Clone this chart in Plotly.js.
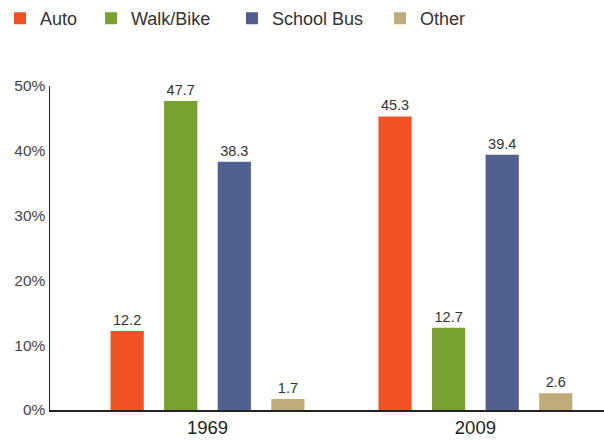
<!DOCTYPE html>
<html><head><meta charset="utf-8">
<script src="https://cdn.plot.ly/plotly-3.0.1.min.js"></script>
<style>body{margin:0;background:#fff}#chart{width:604px;height:441px}</style>
</head><body><div id="chart"></div>
<script>
const years = ["1969", "2009"];
const seriesNames = ["Auto", "Walk/Bike", "School Bus", "Other"];
const auto = [12.2, 45.3];
const walkBike = [47.7, 12.7];
const schoolBus = [38.3, 39.4];
const other = [1.7, 2.6];
const yTickVals = [0, 10, 20, 30, 40, 50];
const yTickText = ["0%", "10%", "20%", "30%", "40%", "50%"];
const colors = ["#F05224", "#78A132", "#52608F", "#C0AC7A"];
const seriesValues = [auto, walkBike, schoolBus, other];
const legendIds = ["legend", "legend2", "legend3", "legend4"];
const legendX = [-0.0903, 0.074, 0.3285, 0.5957];

const FONT = "Liberation Sans, Arial, sans-serif";

const traces = seriesValues.map((vals, i) => ({
  type: "bar",
  name: seriesNames[i],
  x: years,
  y: vals,
  legend: legendIds[i],
  marker: {color: colors[i]},
  text: vals.map(v => v.toFixed(1)),
  textposition: "outside",
  textfont: {size: 14.5, color: "#333", family: FONT},
  cliponaxis: false,
  hoverinfo: "none"
}));

const layout = {
  width: 604, height: 441,
  margin: {l: 50, r: 0, t: 86, b: 31},
  paper_bgcolor: "#fff", plot_bgcolor: "#fff",
  font: {family: FONT, color: "#333"},
  barmode: "group",
  bargap: 0.2,
  bargroupgap: 0.38,
  showlegend: true,
  xaxis: {
    type: "category", range: [-0.588, 1.48],
    showline: true, linecolor: "#222", linewidth: 1.5,
    ticks: "", tickfont: {size: 18.5, color: "#222"}, showgrid: false, zeroline: false
  },
  yaxis: {
    range: [0, 50], tickmode: "array", tickvals: yTickVals, ticktext: yTickText,
    showline: true, linecolor: "#222", linewidth: 1.5,
    ticks: "", tickfont: {size: 15.5, color: "#444"}, showgrid: false, zeroline: false
  }
};
legendIds.forEach((id, i) => {
  layout[id] = {
    orientation: "h", x: legendX[i], xanchor: "left", y: 1.265, yanchor: "top",
    font: {size: 18, color: "#333", family: FONT}, bgcolor: "rgba(0,0,0,0)"
  };
});

Plotly.newPlot("chart", traces, layout, {displayModeBar: false, staticPlot: true});
</script></body></html>
